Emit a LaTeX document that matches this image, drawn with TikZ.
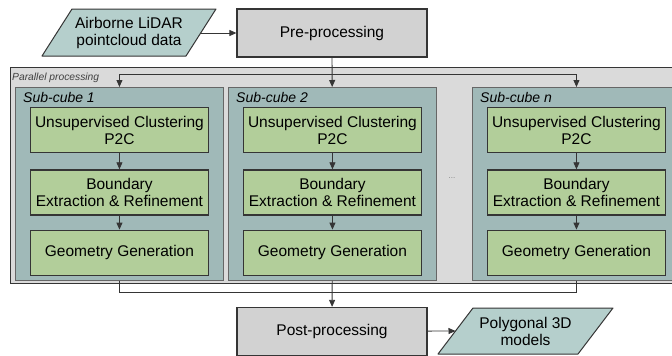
\documentclass[tikz,border=0pt]{standalone}
\usepackage{fontspec}
\setmainfont{Liberation Sans}
\usetikzlibrary{arrows.meta,positioning}

\definecolor{iofill}{HTML}{B5CFCC}
\definecolor{cubefill}{HTML}{A0B9B8}
\definecolor{taskfill}{HTML}{B2CE9A}
\definecolor{procfill}{HTML}{D2D2D2}
\definecolor{parfill}{HTML}{DADADA}
\definecolor{edge}{HTML}{353535}

\begin{document}
\begin{tikzpicture}[
  x=1pt,y=-1pt,
  font=\fontsize{15.5}{17}\selectfont,
  proc/.style={draw=edge,line width=1.2pt,fill=procfill,minimum width=190pt,minimum height=48pt},
  io/.style={draw=edge,line width=1pt,fill=iofill,line join=round},
  iotext/.style={align=center,inner sep=1pt},
  cube/.style={draw=gray!80!black,line width=0.9pt,fill=cubefill,minimum width=208pt,minimum height=193pt,anchor=north west},
  cubelab/.style={anchor=west,inner sep=0pt,font=\fontsize{14}{14}\selectfont\itshape},
  task/.style={draw=edge,line width=1.3pt,fill=taskfill,align=center,inner sep=1pt,minimum width=178pt,minimum height=45pt},
  arr/.style={-{Triangle[length=7pt,width=6pt]},line width=0.8pt,draw=edge},
  link/.style={line width=0.8pt,draw=edge}
]
\useasboundingbox (0,0) rectangle (672,356);

% parallel processing frame
\node[draw=edge,line width=1.2pt,fill=parfill,anchor=north west,minimum width=680pt,minimum height=216pt] (par) at (10,67) {};
\node[anchor=west,inner sep=0pt,font=\fontsize{10.3}{10}\selectfont\itshape,text=black!75] (parlab) at (12,78) {Parallel processing};

% input / output data
\draw[io] (42,56) -- (72,9) -- (216,9) -- (186,56) -- cycle;
\node[iotext] (lidar) at (129,32.5) {Airborne LiDAR\\pointcloud data};
\coordinate (lidar-out) at (201,33);
\draw[io] (438,354) -- (473,308) -- (613,308) -- (578,354) -- cycle;
\node[iotext] (models) at (525.5,331) {Polygonal 3D\\models};
\coordinate (models-in) at (455.5,331);

\node[proc] (pre) at (332,33) {Pre-processing};
\node[proc] (post) at (332,331.5) {Post-processing};

% sub-cubes
\node[cube] (cube1) at (15,87) {};
\node[cube] (cube2) at (228,87) {};
\node[cube] (cuben) at (472,87) {};
\node[cubelab] (lab1) at (23,97) {Sub-cube 1};
\node[cubelab] (lab2) at (236,97) {Sub-cube 2};
\node[cubelab] (labn) at (480,97) {Sub-cube \textit{n}};
\node[font=\fontsize{8}{8}\selectfont,text=gray] (dots) at (452,178) {...};

\node[task,below=20pt of cube1.north] (clu1) {Unsupervised Clustering\\P2C};
\node[task,below=16pt of clu1] (bnd1) {Boundary\\Extraction \& Refinement};
\node[task,below=14pt of bnd1] (geo1) {Geometry Generation};
\node[task,below=20pt of cube2.north] (clu2) {Unsupervised Clustering\\P2C};
\node[task,below=16pt of clu2] (bnd2) {Boundary\\Extraction \& Refinement};
\node[task,below=14pt of bnd2] (geo2) {Geometry Generation};
\node[task,below=20pt of cuben.north] (clun) {Unsupervised Clustering\\P2C};
\node[task,below=16pt of clun] (bndn) {Boundary\\Extraction \& Refinement};
\node[task,below=14pt of bndn] (geon) {Geometry Generation};

\coordinate (split) at (332,74);
\coordinate (merge) at (332,292);

\draw[arr] (lidar-out) -- (pre);
\draw[arr] (pre) -- (cube2);
\draw[arr] (split) -| (cube1);
\draw[arr] (split) -| (cuben);
\foreach \c in {1,2,n}{
  \draw[arr] (clu\c) -- (bnd\c);
  \draw[arr] (bnd\c) -- (geo\c);
}
\draw[link] (cube1) |- (merge);
\draw[link] (cuben) |- (merge);
\draw[arr] (cube2) -- (post);
\draw[arr] (post) -- (models-in);
\end{tikzpicture}
\end{document}
